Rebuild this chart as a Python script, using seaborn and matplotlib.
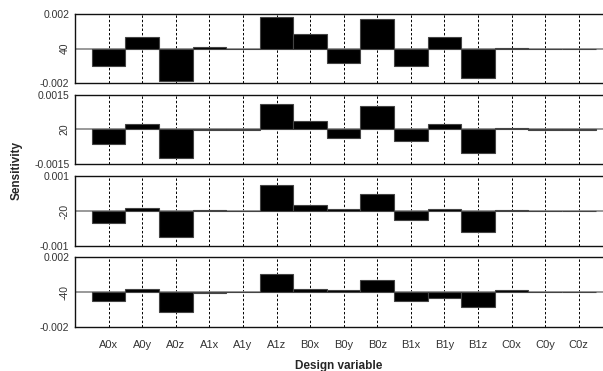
import matplotlib
matplotlib.use("Agg")
import matplotlib.pyplot as plt
import seaborn as sns
import pandas as pd

categories = ["A0x", "A0y", "A0z", "A1x", "A1y", "A1z", "B0x", "B0y", "B0z",
              "B1x", "B1y", "B1z", "C0x", "C0y", "C0z"]

s1 = [-0.00103, 0.00067, -0.00187, 0.00006, -0.00002, 0.00184, 0.00086, -0.00086,
      0.00169, -0.00103, 0.00067, -0.00171, 0.00005, -0.00002, -0.00002]
s2 = [-0.00062, 0.00026, -0.00125, -0.00002, -0.00001, 0.00113, 0.00038, -0.00038,
      0.00101, -0.00052, 0.00026, -0.00102, 0.00007, -0.00001, -0.00001]
s3 = [-0.00034, 0.00009, -0.00075, 0.00002, 0.00001, 0.00074, 0.00017, 0.00007,
      0.00050, -0.00026, 0.00005, -0.00059, 0.00003, 0.00001, 0.00001]
s4 = [-0.00050, 0.00019, -0.00114, -0.00003, 0.00001, 0.00103, 0.00015, 0.00012,
      0.00070, -0.00051, -0.00034, -0.00084, 0.00013, 0.00001, 0.00001]

series = [s1, s2, s3, s4]
limits = [0.002, 0.0015, 0.001, 0.002]
top_labels = ["0.002", "0.0015", "0.001", "0.002"]
mid_labels = ["40", "20", "-20", "-40"]
bot_labels = ["-0.002", "-0.0015", "-0.001", "-0.002"]

sns.set_style("white")
plt.rcParams["font.family"] = ["Liberation Sans", "DejaVu Sans"]

fig = plt.figure(figsize=(6.03, 3.71), dpi=100)
panel_px = [(14, 83), (95, 164), (176, 246), (257, 327)]
left = 75 / 603
width = 1 - left + 0.01

for i, (vals, lim, tl, ml, bl) in enumerate(zip(series, limits, top_labels, mid_labels, bot_labels)):
    top, bot = panel_px[i]
    ax = fig.add_axes([left, 1 - bot / 371, width, (bot - top) / 371])
    df = pd.DataFrame({"cat": categories, "val": vals})
    for x in range(len(categories)):
        ax.axvline(x, color="black", linestyle=(0, (2.5, 2)), linewidth=0.7, zorder=0)
    ax.axhline(0, color="#888888", linewidth=1.2, zorder=1)
    sns.barplot(data=df, x="cat", y="val", ax=ax, color="black", width=1.0,
                edgecolor="#444444", linewidth=0.8, saturation=1, zorder=2)
    ax.set_xlim(-1, 14.9)
    ax.set_ylim(-lim, lim)
    ax.set_yticks([-lim, 0, lim])
    ax.set_yticklabels([bl, ml, tl], fontsize=7.5, color="#333333")
    ax.get_yticklabels()[1].set_rotation(90)
    ax.get_yticklabels()[1].set_va("center")
    ax.tick_params(axis="y", length=2, width=0.6, pad=2)
    ax.set_xlabel("")
    ax.set_ylabel("")
    for sp in ["top", "bottom", "left"]:
        ax.spines[sp].set_color("#111111")
        ax.spines[sp].set_linewidth(1.0)
    ax.spines["right"].set_visible(False)
    if i < 3:
        ax.set_xticks(range(len(categories)))
        ax.set_xticklabels([])
        ax.tick_params(axis="x", length=0)
    else:
        ax.set_xticks(range(len(categories)))
        ax.set_xticklabels(categories, fontsize=8, color="#333333")
        ax.tick_params(axis="x", length=0, pad=9)

fig.text(0.027, 0.54, "Sensitivity", rotation=90, ha="center", va="center",
         fontsize=8.5, fontweight="bold")
fig.text(339 / 603, 1 - 366 / 371, "Design variable", ha="center", va="center",
         fontsize=8.5, fontweight="bold")

fig.savefig("out.png", dpi=100)
